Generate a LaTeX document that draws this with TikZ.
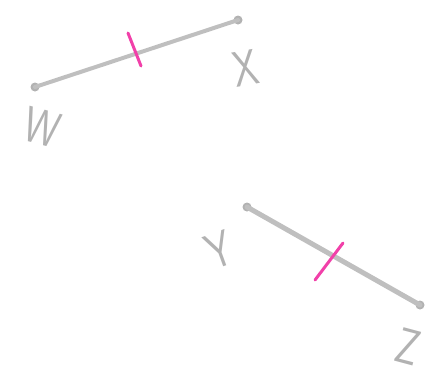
\documentclass[tikz,border=0pt]{standalone}
\usepackage{fontspec}
\setmainfont{Liberation Sans}
\usetikzlibrary{calc}

\begin{document}
\begin{tikzpicture}[x=1pt,y=-1pt]
  \tikzstyle{seg}=[draw=gray!50,line width=4pt,line cap=round]
  \tikzstyle{dot}=[circle,fill=gray!60,inner sep=0pt,minimum size=9pt]
  \tikzstyle{tick}=[draw=magenta!75,line width=3pt,line cap=round]
  \tikzstyle{letter}=[text=gray!60,font=\fontsize{50}{50}\selectfont\sffamily,inner sep=0pt]

  \useasboundingbox (0,0) rectangle (433,381);

  \node[dot] (w) at (35,87) {};
  \node[dot] (x) at (238,20) {};
  \node[dot] (y) at (247,207) {};
  \node[dot] (z) at (420,305) {};

  \node[letter,rotate=-15,xscale=0.8] (wlabel) at (42,127) {W};
  \node[letter,rotate=10,xscale=0.8] (xlabel) at (246,68) {X};
  \node[letter,rotate=20,xscale=0.8] (ylabel) at (219,250) {Y};
  \node[letter,rotate=-15,xscale=0.8] (zlabel) at (408,347) {Z};

  \draw[seg] (w.center) -- (x.center);
  \draw[seg,line width=5pt] (y.center) -- (z.center);

  \coordinate (wxtickA) at (128,33);
  \coordinate (wxtickB) at (141,66);
  \draw[tick] (wxtickA) -- (wxtickB);

  \coordinate (yztickA) at (343,243);
  \coordinate (yztickB) at (315,280);
  \draw[tick] (yztickA) -- (yztickB);
\end{tikzpicture}
\end{document}
